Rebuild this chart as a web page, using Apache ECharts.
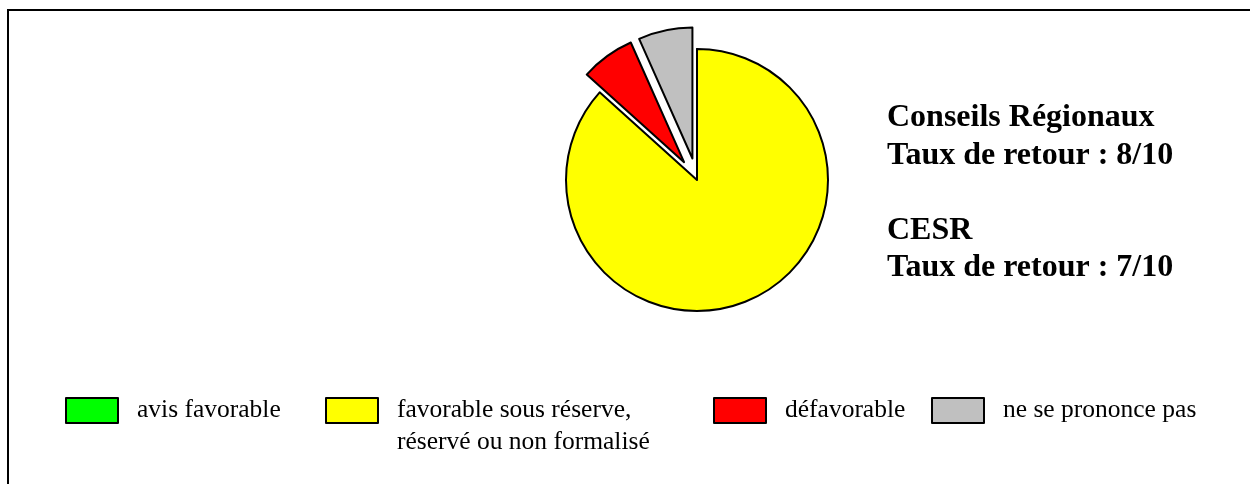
<!DOCTYPE html>
<html>
<head>
<meta charset="utf-8">
<script src="https://cdn.jsdelivr.net/npm/echarts@6/dist/echarts.min.js"></script>
<style>
html,body{margin:0;padding:0;background:#fff;}
#chart{width:1250px;height:484px;}
</style>
</head>
<body>
<div id="chart"></div>
<script>
const categories = ['avis favorable', 'favorable sous réserve,\nréservé ou non formalisé', 'défavorable', 'ne se prononce pas'];
const values = [0, 13, 1, 1];
const exploded = [false, false, true, true];
const infoLines = ['Conseils Régionaux', 'Taux de retour : 8/10', '', 'CESR', 'Taux de retour : 7/10'];

const colors = ['#00FF00', '#FFFF00', '#FF0000', '#C0C0C0'];
const legendLeft = [65, 325, 713, 931];
const FONT = '"Liberation Serif", "Times New Roman", serif';
const LEG_FS = 25.5, LEG_LH = 32, ICON_W = 52, ICON_H = 25, ICON_TOP = 398;

const chart = echarts.init(document.getElementById('chart'), null, {renderer: 'canvas'});

const legends = categories.map((name, i) => {
  const nLines = name.split('\n').length;
  // prepend empty lines so that the first text line sits on the icon's middle
  const pre = '\n'.repeat(nLines - 1);
  const blockH = LEG_LH * (2 * nLines - 1);
  const top = ICON_TOP - Math.max(0, (blockH - ICON_H) / 2);
  return {
    data: [name],
    left: legendLeft[i],
    top: top,
    orient: 'horizontal',
    padding: 0,
    icon: 'rect',
    itemWidth: ICON_W,
    itemHeight: ICON_H,
    selectedMode: false,
    formatter: n => pre + n,
    itemStyle: {borderColor: '#000', borderWidth: 2},
    textStyle: {
      fontFamily: FONT,
      fontSize: LEG_FS,
      lineHeight: LEG_LH,
      color: '#000',
      padding: [0, 0, 0, 14]
    }
  };
});

chart.setOption({
  animation: false,
  backgroundColor: '#fff',
  title: {
    text: infoLines.join('\n'),
    left: 887,
    top: 99,
    padding: 0,
    textStyle: {
      fontFamily: FONT,
      fontSize: 32,
      fontWeight: 'bold',
      lineHeight: 37.5,
      color: '#000'
    }
  },
  legend: legends,
  graphic: [{
    type: 'rect',
    shape: {x: 8, y: 10, width: 1300, height: 600},
    style: {fill: 'none', stroke: '#000', lineWidth: 2},
    silent: true
  }],
  series: [{
    type: 'pie',
    center: [697, 180],
    radius: 131,
    startAngle: 90,
    clockwise: true,
    selectedMode: 'multiple',
    selectedOffset: 22,
    label: {show: false},
    labelLine: {show: false},
    emphasis: {disabled: true},
    itemStyle: {borderColor: '#000', borderWidth: 2},
    data: categories.map((name, i) => ({
      name: name,
      value: values[i],
      selected: exploded[i],
      itemStyle: {color: colors[i]}
    }))
  }]
});
</script>
</body>
</html>
